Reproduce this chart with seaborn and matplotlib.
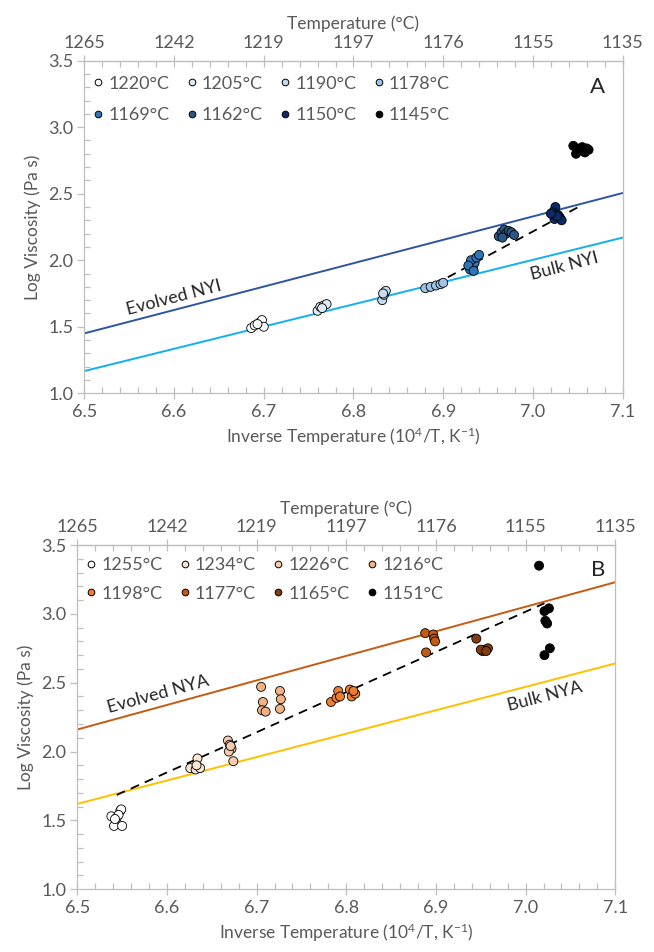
import matplotlib
matplotlib.use("Agg")
import matplotlib.pyplot as plt
import pandas as pd
import seaborn as sns
from matplotlib.lines import Line2D
from matplotlib.ticker import MultipleLocator, FormatStrFormatter

sns.set_theme(style="white")
plt.rcParams["font.family"] = ["Lato", "DejaVu Sans"]
plt.rcParams["mathtext.fontset"] = "custom"
plt.rcParams["mathtext.rm"] = "Lato"
plt.rcParams["mathtext.it"] = "Lato:italic"

# ---------------- Panel A : NYI experiments ----------------
a_labels = ["1220°C", "1205°C", "1190°C", "1178°C",
            "1169°C", "1162°C", "1150°C", "1145°C"]
a_colors = ["#ffffff", "#deebf7", "#c5dcf0", "#9dc3e6",
            "#2e75b6", "#2a5783", "#0c2a66", "#000000"]
a_inv_t = [
    [6.686, 6.690, 6.695, 6.698, 6.700, 6.693],
    [6.760, 6.763, 6.767, 6.770, 6.765],
    [6.832, 6.834, 6.835, 6.836, 6.833],
    [6.880, 6.886, 6.892, 6.897, 6.900],
    [6.930, 6.933, 6.935, 6.931, 6.937, 6.940, 6.928, 6.934],
    [6.962, 6.965, 6.968, 6.970, 6.973, 6.976, 6.979, 6.966],
    [7.025, 7.022, 7.028, 7.030, 7.024, 7.032, 7.027, 7.020],
    [7.045, 7.050, 7.055, 7.060, 7.048, 7.058, 7.052, 7.062],
]
a_log_eta = [
    [1.49, 1.51, 1.53, 1.55, 1.50, 1.52],
    [1.62, 1.65, 1.66, 1.67, 1.64],
    [1.70, 1.74, 1.76, 1.77, 1.75],
    [1.79, 1.80, 1.81, 1.82, 1.83],
    [1.93, 1.95, 1.98, 2.00, 2.02, 2.04, 1.96, 1.92],
    [2.18, 2.21, 2.23, 2.20, 2.22, 2.21, 2.19, 2.17],
    [2.40, 2.36, 2.34, 2.32, 2.31, 2.30, 2.33, 2.35],
    [2.86, 2.82, 2.85, 2.84, 2.80, 2.81, 2.84, 2.83],
]
a_model_x = [6.5, 7.1]
a_evolved_y = [1.45, 2.505]
a_bulk_y = [1.167, 2.17]
a_trend_x = [6.89, 7.052]
a_trend_y = [1.817, 2.405]

# ---------------- Panel B : NYA experiments ----------------
b_labels = ["1255°C", "1234°C", "1226°C", "1216°C",
            "1198°C", "1177°C", "1165°C", "1151°C"]
b_colors = ["#ffffff", "#fbe5d6", "#f8cbad", "#f4b183",
            "#ed7d31", "#c55a11", "#843c0c", "#000000"]
b_inv_t = [
    [6.538, 6.541, 6.544, 6.548, 6.549, 6.546, 6.550, 6.542],
    [6.626, 6.632, 6.634, 6.637, 6.633],
    [6.668, 6.670, 6.672, 6.669, 6.674, 6.671],
    [6.705, 6.707, 6.706, 6.710, 6.726, 6.727, 6.726],
    [6.783, 6.789, 6.791, 6.793, 6.804, 6.806, 6.810, 6.808],
    [6.888, 6.897, 6.898, 6.899, 6.889],
    [6.945, 6.952, 6.955, 6.958, 6.950, 6.956],
    [7.015, 7.026, 7.021, 7.022, 7.024, 7.027, 7.021],
]
b_log_eta = [
    [1.53, 1.46, 1.52, 1.57, 1.58, 1.54, 1.46, 1.51],
    [1.88, 1.87, 1.95, 1.88, 1.90],
    [2.08, 2.05, 2.02, 2.00, 1.93, 2.04],
    [2.47, 2.36, 2.30, 2.29, 2.44, 2.38, 2.31],
    [2.36, 2.39, 2.44, 2.40, 2.45, 2.40, 2.42, 2.44],
    [2.86, 2.85, 2.82, 2.80, 2.72],
    [2.82, 2.73, 2.74, 2.75, 2.74, 2.73],
    [3.35, 3.04, 3.02, 2.95, 2.93, 2.75, 2.70],
]
b_model_x = [6.5, 7.1]
b_evolved_y = [2.16, 3.23]
b_bulk_y = [1.62, 2.64]
b_trend_x = [6.544, 7.021]
b_trend_y = [1.685, 3.077]

# shared axis ticks
inv_t_ticks = [6.5, 6.6, 6.7, 6.8, 6.9, 7.0, 7.1]
temp_tick_labels = ["1265", "1242", "1219", "1197", "1176", "1155", "1135"]

GREY_LINE = "#bfbfbf"
GREY_TEXT = "#595959"
TICK_FS = 13
LABEL_FS = 12.5


def long_table(labels, xs, ys):
    rows = []
    for lab, xv, yv in zip(labels, xs, ys):
        for x, y in zip(xv, yv):
            rows.append({"inv_t": x, "log_eta": y, "run": lab})
    return pd.DataFrame(rows)


def style_axes(ax):
    ax.set_xlim(6.5, 7.1)
    ax.set_ylim(1.0, 3.5)
    ax.xaxis.set_major_locator(MultipleLocator(0.1))
    ax.xaxis.set_minor_locator(MultipleLocator(0.02))
    ax.yaxis.set_major_locator(MultipleLocator(0.5))
    ax.yaxis.set_minor_locator(MultipleLocator(0.1))
    ax.xaxis.set_major_formatter(FormatStrFormatter("%.1f"))
    ax.yaxis.set_major_formatter(FormatStrFormatter("%.1f"))
    for sp in ax.spines.values():
        sp.set_color(GREY_LINE)
        sp.set_linewidth(0.9)
    ax.tick_params(axis="x", which="major", direction="inout", length=8,
                   width=0.9, color=GREY_LINE, labelcolor=GREY_TEXT,
                   labelsize=TICK_FS, pad=4, bottom=True)
    ax.tick_params(axis="x", which="minor", direction="in", length=4,
                   width=0.9, color=GREY_LINE, bottom=True)
    ax.tick_params(axis="y", which="major", direction="out", length=5,
                   width=0.9, color=GREY_LINE, labelcolor=GREY_TEXT,
                   labelsize=TICK_FS, pad=3, left=True)
    ax.tick_params(axis="y", which="minor", direction="in", length=4,
                   width=0.9, color=GREY_LINE, left=True)
    ax.set_xlabel("Inverse Temperature (10$^{4}$/T, K$^{-1}$)",
                  fontsize=LABEL_FS, color=GREY_TEXT, labelpad=4)
    ax.set_ylabel("Log Viscosity (Pa s)", fontsize=LABEL_FS,
                  color=GREY_TEXT, labelpad=5)

    top = ax.secondary_xaxis("top")
    top.set_xticks(inv_t_ticks, labels=temp_tick_labels)
    top.xaxis.set_minor_locator(MultipleLocator(0.02))
    top.spines["top"].set_color(GREY_LINE)
    top.spines["top"].set_linewidth(0.9)
    top.tick_params(axis="x", which="major", direction="inout", length=8,
                    width=0.9, color=GREY_LINE, labelcolor=GREY_TEXT,
                    labelsize=TICK_FS, pad=3)
    top.tick_params(axis="x", which="minor", direction="in", length=4,
                    width=0.9, color=GREY_LINE)
    top.set_xlabel("Temperature (°C)", fontsize=LABEL_FS, color=GREY_TEXT,
                   labelpad=4)


def draw_panel(ax, labels, colors, xs, ys, model_x, evolved_y, evolved_c,
               bulk_y, bulk_c, trend_x, trend_y, legend_y, row_gap):
    sns.lineplot(x=model_x, y=evolved_y, ax=ax, color=evolved_c, lw=1.4,
                 zorder=2)
    sns.lineplot(x=model_x, y=bulk_y, ax=ax, color=bulk_c, lw=1.4,
                 zorder=2)
    sns.lineplot(x=trend_x, y=trend_y, ax=ax, color="black", lw=1.3,
                 linestyle=(0, (5, 3.5)), zorder=2)
    df = long_table(labels, xs, ys)
    sns.scatterplot(data=df, x="inv_t", y="log_eta", hue="run",
                    hue_order=labels, palette=dict(zip(labels, colors)),
                    s=42, edgecolor="black", linewidth=0.6, legend=False,
                    ax=ax, zorder=3)
    handles = [Line2D([], [], linestyle="none", marker="o", markersize=4.8,
                      markerfacecolor=c, markeredgecolor="black",
                      markeredgewidth=0.7) for c in colors]
    # legend fills column by column; order entries so they read across rows
    order = [0, 4, 1, 5, 2, 6, 3, 7]
    ax.legend([handles[i] for i in order], [labels[i] for i in order],
              ncol=4, loc="upper left",
              bbox_to_anchor=(0.016, legend_y), frameon=False,
              fontsize=13, handlelength=0.55, handletextpad=0.3,
              columnspacing=0.95, labelspacing=row_gap, borderpad=0,
              borderaxespad=0, labelcolor=GREY_TEXT)
    style_axes(ax)


fig = plt.figure(figsize=(6.54, 9.52), dpi=100)
ax_a = fig.add_axes([0.1289, 0.5869, 0.8232, 0.3494])
ax_b = fig.add_axes([0.1182, 0.0659, 0.8226, 0.3616])

draw_panel(ax_a, a_labels, a_colors, a_inv_t, a_log_eta, a_model_x,
           a_evolved_y, "#2f55a0", a_bulk_y, "#12b0ef", a_trend_x,
           a_trend_y, 0.955, 0.85)
ax_a.text(6.600, 1.715, "Evolved NYI", rotation=14.6, fontsize=13,
          ha="center", va="center", rotation_mode="anchor")
ax_a.text(7.035, 1.955, "Bulk NYI", rotation=14.6, fontsize=13,
          ha="center", va="center", rotation_mode="anchor")
ax_a.text(7.072, 3.30, "A", fontsize=16, ha="center", va="center")

draw_panel(ax_b, b_labels, b_colors, b_inv_t, b_log_eta, b_model_x,
           b_evolved_y, "#c55a11", b_bulk_y, "#ffc000", b_trend_x,
           b_trend_y, 0.965, 0.7)
ax_b.text(6.590, 2.415, "Evolved NYA", rotation=15.3, fontsize=13,
          ha="center", va="center", rotation_mode="anchor")
ax_b.text(7.021, 2.40, "Bulk NYA", rotation=14.6, fontsize=13,
          ha="center", va="center", rotation_mode="anchor")
ax_b.text(7.081, 3.319, "B", fontsize=16, ha="center", va="center")

fig.savefig("out.png", dpi=100, facecolor="white")
